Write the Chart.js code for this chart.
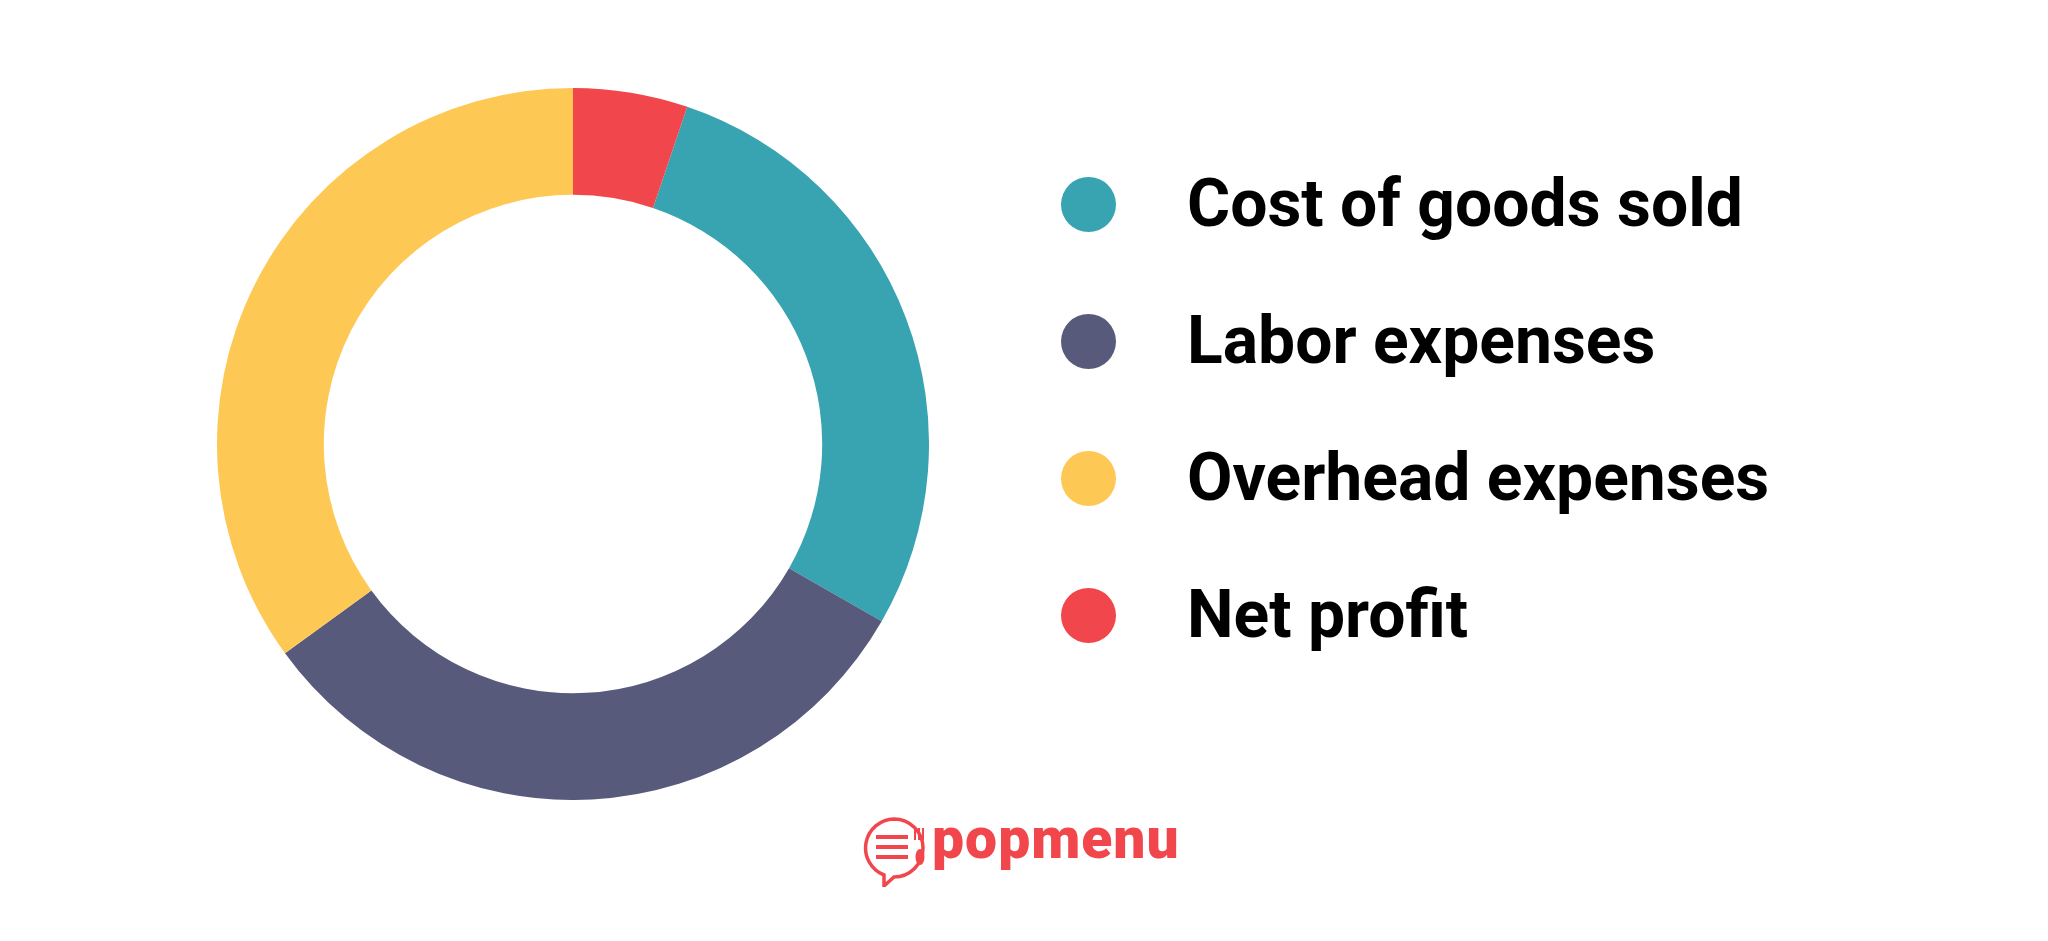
<!DOCTYPE html>
<html>
<head>
<meta charset="utf-8">
<script src="https://cdn.jsdelivr.net/npm/chart.js@4/dist/chart.umd.min.js"></script>
<style>
  body { margin: 0; background: #fff; width: 2048px; height: 941px; overflow: hidden; position: relative; font-family: Roboto, sans-serif; }
  #chartBox { position: absolute; left: 217px; top: 88px; width: 712px; height: 712px; }
  #legend { position: absolute; left: 1060px; top: 0; }
  .item { position: absolute; left: 0; height: 56px; white-space: nowrap; }
  .dot { position: absolute; left: 1px; top: 0; width: 55px; height: 55px; border-radius: 50%; }
  .lbl { position: absolute; left: 127px; top: -11px; font-size: 66px; font-weight: 700; color: #000; line-height: 76px; }
  #logo { position: absolute; left: 862px; top: 815px; height: 72px; }
  #logo span { position: absolute; left: 70px; top: -10px; font-family: Roboto, sans-serif; font-weight: 900; font-size: 57px; color: #f1474c; letter-spacing: 1px; }
</style>
</head>
<body>
<div id="chartBox"><canvas id="myChart"></canvas></div>
<div id="legend"></div>
<div id="logo">
  <svg width="68" height="72" viewBox="0 0 68 72">
    <path d="M32 4 A29 29 0 1 1 32 62 L22 71 L22 60 A29 29 0 0 1 32 4 Z" fill="none" stroke="#f1474c" stroke-width="3.5"/>
    <line x1="14" y1="22" x2="46" y2="22" stroke="#f1474c" stroke-width="4"/>
    <line x1="14" y1="32" x2="46" y2="32" stroke="#f1474c" stroke-width="4"/>
    <line x1="14" y1="42" x2="46" y2="42" stroke="#f1474c" stroke-width="4"/>
    <path d="M53 13 L53 25 M57 13 L57 25 M61 13 L61 25" stroke="#f1474c" stroke-width="2"/>
    <ellipse cx="58" cy="42" rx="4.5" ry="8" fill="#f1474c"/>
  </svg>
  <span>popmenu</span>
</div>
<script>
var labels = ["Cost of goods sold", "Labor expenses", "Overhead expenses", "Net profit"];
var shares = [28.1, 31.7, 35.0, 5.2];
var colors = ["#38a3b1", "#575a7b", "#fdc854", "#f1474c"];

// net profit sits at 12 o'clock, so start the first slice after it
var total = shares.reduce(function (a, b) { return a + b; }, 0);
var startAngle = shares[3] / total * 360;

var ctx = document.getElementById("myChart");
var myChart = new Chart(ctx, {
    type: 'doughnut',
    data: {
        labels: labels,
        datasets: [{
            data: shares,
            backgroundColor: colors,
            borderWidth: 0
        }]
    },
    options: {
        responsive: true,
        maintainAspectRatio: false,
        animation: false,
        cutout: '70%',
        rotation: startAngle,
        layout: { padding: 0 },
        plugins: {
            legend: { display: false },
            tooltip: { enabled: false }
        }
    }
});

var legend = document.getElementById("legend");
var rowY = [177, 314, 451, 588];
labels.forEach(function (name, i) {
    var item = document.createElement("div");
    item.className = "item";
    item.style.top = rowY[i] + "px";
    item.innerHTML = '<div class="dot" style="background:' + colors[i] + '"></div>' +
        '<div class="lbl">' + name + '</div>';
    legend.appendChild(item);
});
</script>
</body>
</html>
